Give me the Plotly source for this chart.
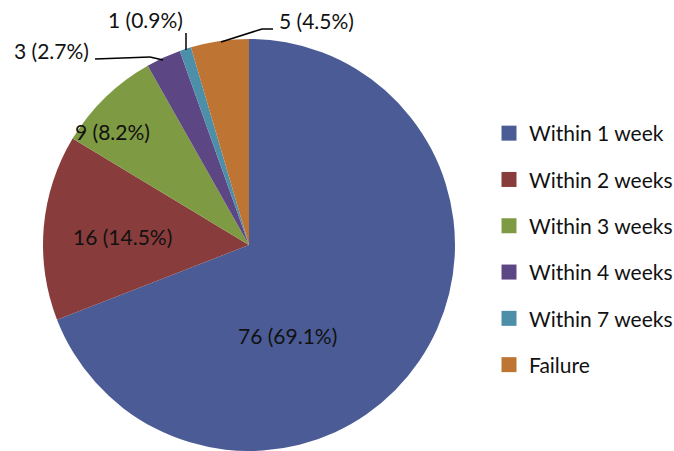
import plotly.graph_objects as go

categories = ["Within 1 week", "Within 2 weeks", "Within 3 weeks",
              "Within 4 weeks", "Within 7 weeks", "Failure"]
counts = [76, 16, 9, 3, 1, 5]
colors = ["#4A5B96", "#893C3C", "#7E9A42", "#5C4683", "#4D8EA8", "#BE7433"]

W, H = 674, 451
total = sum(counts)
labels = [f"{v} ({v / total * 100:.1f}%)" for v in counts]

# label placement (pixel coords of text centres) and leader lines
label_pos = [(287, 335), (122, 236), (112, 131), (51, 51), (145, 20), (316, 21)]
leaders = {3: [(95, 59), (150, 57), (163, 60)],
           4: [(186, 33), (186, 50)],
           5: [(273, 29), (262, 29), (221, 42)]}

cx, r = 249, 206
fig = go.Figure()
fig.add_trace(go.Pie(
    labels=categories, values=counts, sort=False, direction="clockwise",
    rotation=0, marker=dict(colors=colors, line=dict(width=0)),
    textinfo="none", showlegend=False, hoverinfo="label+value+percent",
    domain=dict(x=[(cx - r) / W, (cx + r) / W], y=[0, 2 * r / H]),
))

for i, (cat, col) in enumerate(zip(categories, colors)):
    fig.add_trace(go.Scatter(
        x=[None], y=[None], mode="markers", name=cat, legendgroup=f"g{i}",
        marker=dict(symbol="square", size=15, color=col),
    ))

def px(x, y):
    return x / W, 1 - y / H

annotations = []
for (x, y), t in zip(label_pos, labels):
    ax_, ay_ = px(x, y)
    annotations.append(dict(x=ax_, y=ay_, xref="paper", yref="paper", text=t,
                            showarrow=False, xanchor="center", yanchor="middle",
                            font=dict(family="Lato", size=21, color="#111111")))

shapes = []
for idx, pts in leaders.items():
    for (x0, y0), (x1, y1) in zip(pts[:-1], pts[1:]):
        a0, b0 = px(x0, y0)
        a1, b1 = px(x1, y1)
        shapes.append(dict(type="line", xref="paper", yref="paper",
                           x0=a0, y0=b0, x1=a1, y1=b1,
                           line=dict(color="#000000", width=1.5)))

fig.update_layout(
    width=W, height=H, margin=dict(l=0, r=0, t=0, b=0, autoexpand=False),
    paper_bgcolor="white", plot_bgcolor="white",
    xaxis=dict(visible=False), yaxis=dict(visible=False),
    annotations=annotations, shapes=shapes,
    legend=dict(x=489 / W, y=1 - 113 / H, xanchor="left", yanchor="top",
                font=dict(family="Lato", size=21, color="#111111"),
                tracegroupgap=16, itemwidth=30, bgcolor="rgba(0,0,0,0)"),
    showlegend=True,
)

fig.write_html("out.html")
